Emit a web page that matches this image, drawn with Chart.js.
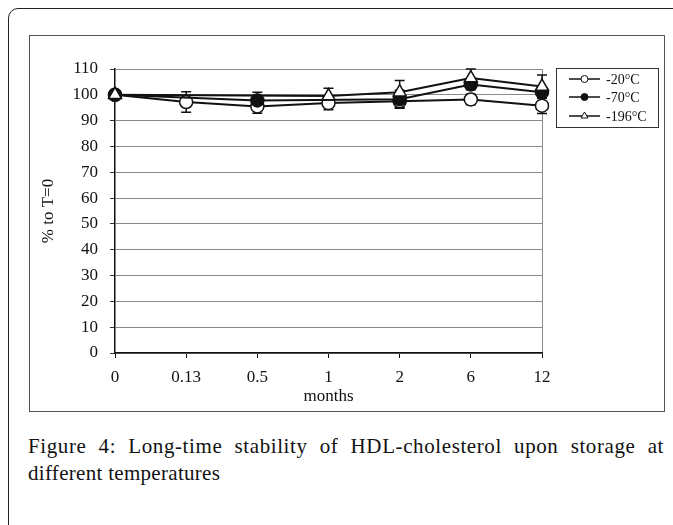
<!DOCTYPE html>
<html>
<head>
<meta charset="utf-8">
<script src="https://cdn.jsdelivr.net/npm/chart.js@4/dist/chart.umd.min.js"></script>
<style>
  html, body { margin:0; padding:0; width:673px; height:525px; overflow:hidden; background:#fff; }
  #outer { position:absolute; left:8px; top:8px; width:720px; height:600px; border:1.5px solid #222; border-radius:10px; }
  #box { position:absolute; left:29px; top:35px; width:634px; height:375px; border:1px solid #555; }
  #box canvas { display:block; }
  .cap { position:absolute; left:28px; width:636px; font-family:'Liberation Serif', serif; font-size:21px; letter-spacing:0.3px; color:#111; white-space:nowrap; }
  #cap1 { top:434px; text-align:justify; text-align-last:justify; white-space:normal; letter-spacing:0.6px; }
  #cap2 { top:461px; }
</style>
</head>
<body>
<div id="outer"></div>
<div id="box"><canvas id="c" width="634" height="375"></canvas></div>
<div class="cap" id="cap1">Figure 4: Long-time stability of HDL-cholesterol upon storage at</div>
<div class="cap" id="cap2">different temperatures</div>
<script>
const months = ['0', '0.13', '0.5', '1', '2', '6', '12'];
const seriesNames = ['-20°C', '-70°C', '-196°C'];
const val20  = [100, 97.2, 95.5, 96.8, 97.5, 98.2, 95.8];
const val70  = [100, null, 97.8, null, 98.3, 104.0, 101.0];
const val196 = [100, null, null, 99.5, 101.0, 106.5, 103.2];
const err20  = [0, 4.0, 2.6, 2.6, 2.5, 2.0, 3.0];
const err70  = [0, 0, 3.2, 0, 3.5, 2.0, 2.0];
const err196 = [0, 0, 0, 3.0, 4.5, 3.5, 4.5];
const yTicks = [0, 10, 20, 30, 40, 50, 60, 70, 80, 90, 100, 110];

Chart.defaults.font.family = "'Liberation Serif', 'Times New Roman', serif";
Chart.defaults.color = '#111';

const errorBars = {
  id: 'errorBars',
  beforeDatasetsDraw(chart) {
    const ctx = chart.ctx, y = chart.scales.y, x = chart.scales.x;
    ctx.save();
    ctx.strokeStyle = '#111';
    ctx.lineWidth = 1.5;
    chart.data.datasets.forEach((ds) => {
      ds.errors.forEach((e, i) => {
        if (!e || ds.data[i] == null) return;
        const px = x.getPixelForValue(i);
        const top = y.getPixelForValue(ds.data[i] + e);
        const bot = y.getPixelForValue(ds.data[i] - e);
        ctx.beginPath();
        ctx.moveTo(px, top); ctx.lineTo(px, bot);
        ctx.moveTo(px - 5, top); ctx.lineTo(px + 5, top);
        ctx.moveTo(px - 5, bot); ctx.lineTo(px + 5, bot);
        ctx.stroke();
      });
    });
    ctx.restore();
  }
};

const boxLegend = {
  id: 'boxLegend',
  afterDraw(chart) {
    const ctx = chart.ctx;
    const bx = 526, by = 32, bw = 102, bh = 59;
    ctx.save();
    ctx.strokeStyle = '#333';
    ctx.lineWidth = 1;
    ctx.strokeRect(bx + 0.5, by + 0.5, bw, bh);
    const rows = [11, 29, 48];
    chart.data.datasets.forEach((ds, k) => {
      const yy = by + rows[k];
      ctx.strokeStyle = '#111';
      ctx.lineWidth = 1.5;
      ctx.beginPath();
      ctx.moveTo(bx + 13, yy); ctx.lineTo(bx + 44, yy);
      ctx.stroke();
      ctx.fillStyle = ds.pointBackgroundColor;
      ctx.strokeStyle = '#111';
      ctx.lineWidth = 1;
      Chart.helpers.drawPoint(ctx, {pointStyle: ds.pointStyle, radius: ds.pointStyle === 'triangle' ? 4 : 3.5, borderWidth: 1, rotation: 0}, bx + 28.5, yy);
      ctx.fillStyle = '#111';
      ctx.font = "14px 'Liberation Serif', serif";
      ctx.textBaseline = 'middle';
      ctx.textAlign = 'left';
      ctx.fillText(ds.label, bx + 50, yy + 1);
    });
    ctx.restore();
  }
};

function mkDs(label, data, errors, style, fill, order) {
  return {
    label, data, errors, order,
    spanGaps: true,
    borderColor: '#111', borderWidth: 2,
    pointStyle: style, pointRadius: style === 'triangle' ? 7.5 : 6.5, pointHoverRadius: 6.5,
    pointBackgroundColor: fill, pointBorderColor: '#111', pointBorderWidth: 1.5,
    tension: 0, fill: false
  };
}

new Chart(document.getElementById('c'), {
  type: 'line',
  data: {
    labels: months,
    datasets: [
      mkDs(seriesNames[0], val20, err20, 'circle', '#fff', 3),
      mkDs(seriesNames[1], val70, err70, 'circle', '#111', 2),
      mkDs(seriesNames[2], val196, err196, 'triangle', '#fff', 1)
    ]
  },
  options: {
    responsive: false,
    animation: false,
    events: [],
    layout: { padding: { left: 0, top: 33, right: 122, bottom: 0 } },
    plugins: { legend: { display: false }, tooltip: { enabled: false } },
    scales: {
      x: {
        type: 'category',
        offset: false,
        afterFit(s) { s.height = 58; },
        border: { color: '#111', width: 1.5 },
        grid: {
          drawOnChartArea: true,
          color: c => c.index === months.length - 1 ? '#8a8a8a' : 'rgba(0,0,0,0)',
          tickColor: '#111', tickLength: 5, lineWidth: 1
        },
        ticks: { font: { size: 17 }, color: '#111', padding: 9, maxRotation: 0 },
        title: { display: true, text: 'months', font: { size: 17 }, color: '#111', padding: { top: 0, bottom: 4 } }
      },
      y: {
        min: 0, max: 110,
        afterFit(s) { s.width = 85; },
        afterBuildTicks(s) { s.ticks = yTicks.map(v => ({ value: v })); },
        border: { color: '#111', width: 1.5 },
        grid: { color: '#8a8a8a', tickColor: '#333', tickLength: 5, lineWidth: 1 },
        ticks: { font: { size: 17 }, color: '#111', padding: 12 },
        title: { display: true, text: '% to T=0', font: { size: 17 }, color: '#111', padding: { top: 8, bottom: 0 } }
      }
    }
  },
  plugins: [errorBars, boxLegend]
});
</script>
</body>
</html>
